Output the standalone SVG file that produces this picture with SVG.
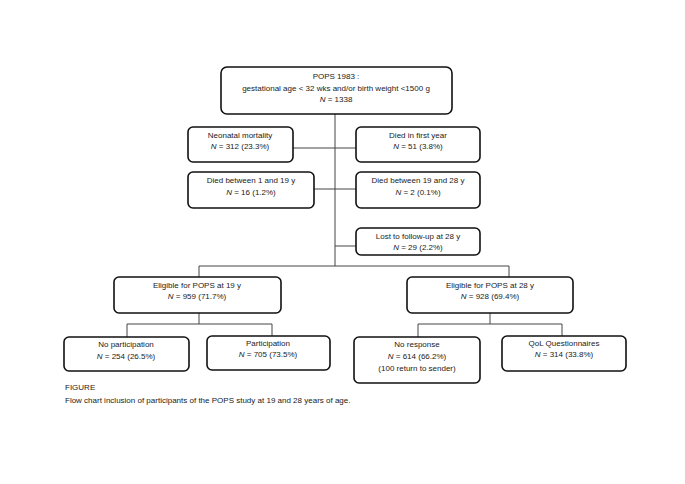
<svg xmlns="http://www.w3.org/2000/svg" width="685" height="484" viewBox="0 0 685 484">
<style>
.box{fill:#fff;stroke:#111;stroke-width:1.6}
.ln{fill:none;stroke:#444;stroke-width:1}
text{font-family:"Liberation Sans",Arial,sans-serif;font-size:8px;fill:#222;text-anchor:middle}
.cap{text-anchor:start;font-size:8px}
.i{font-style:italic}
</style>
<rect width="685" height="484" fill="#fff"/>
<g id="connectors">
<path class="ln" d="M335,114 V266"/>
<path class="ln" d="M293,148 H356"/>
<path class="ln" d="M314,189 H356"/>
<path class="ln" d="M335,246 H356"/>
<path class="ln" d="M199,277 V266 H509 V277"/>
<path class="ln" d="M199,313 V324 M127,337 V324 H272 V336"/>
<path class="ln" d="M490,313 V324 M418,337 V324 H562 V336"/>
</g>
<g id="pops">
<rect class="box" x="221" y="67" width="231" height="47" rx="6"/>
<text x="336" y="79">POPS 1983 :</text>
<text x="336" y="91">gestational age &lt; 32 wks and/or  birth weight &lt;1500 g</text>
<text x="336" y="102"><tspan class="i">N</tspan> = 1338</text>
</g>
<g id="neonatal">
<rect class="box" x="188" y="127" width="105" height="35" rx="5"/>
<text x="240" y="138">Neonatal mortality</text>
<text x="240" y="149"><tspan class="i">N</tspan> = 312 (23.3%)</text>
</g>
<g id="firstyear">
<rect class="box" x="356" y="127" width="124" height="35" rx="5"/>
<text x="418" y="138">Died in first year</text>
<text x="418" y="149"><tspan class="i">N</tspan> = 51 (3.8%)</text>
</g>
<g id="died1to19">
<rect class="box" x="188" y="172" width="126" height="36" rx="5"/>
<text x="251" y="183">Died between 1 and 19 y</text>
<text x="251" y="195"><tspan class="i">N</tspan> = 16 (1.2%)</text>
</g>
<g id="died19to28">
<rect class="box" x="356" y="172" width="124" height="36" rx="5"/>
<text x="418" y="183">Died between 19 and 28 y</text>
<text x="418" y="195"><tspan class="i">N</tspan> = 2 (0.1%)</text>
</g>
<g id="lost">
<rect class="box" x="356" y="228" width="124" height="27" rx="5"/>
<text x="418" y="239">Lost to follow-up at 28 y</text>
<text x="418" y="250"><tspan class="i">N</tspan> = 29 (2.2%)</text>
</g>
<g id="eligible19">
<rect class="box" x="114" y="277" width="167" height="36" rx="5"/>
<text x="197" y="288">Eligible for POPS at 19 y</text>
<text x="197" y="299"><tspan class="i">N</tspan> = 959 (71.7%)</text>
</g>
<g id="eligible28">
<rect class="box" x="407" y="277" width="166" height="36" rx="5"/>
<text x="490" y="288">Eligible for POPS at 28 y</text>
<text x="490" y="299"><tspan class="i">N</tspan> = 928 (69.4%)</text>
</g>
<g id="noparticipation">
<rect class="box" x="64" y="337" width="125" height="34" rx="5"/>
<text x="126" y="347">No participation</text>
<text x="126" y="359"><tspan class="i">N</tspan> = 254 (26.5%)</text>
</g>
<g id="participation">
<rect class="box" x="207" y="336" width="123" height="34" rx="5"/>
<text x="268" y="346">Participation</text>
<text x="268" y="357"><tspan class="i">N</tspan> = 705 (73.5%)</text>
</g>
<g id="noresponse">
<rect class="box" x="354" y="337" width="126" height="46" rx="5"/>
<text x="417" y="347">No response</text>
<text x="417" y="359"><tspan class="i">N</tspan> = 614 (66.2%)</text>
<text x="417" y="371">(100 return to sender)</text>
</g>
<g id="qol">
<rect class="box" x="502" y="336" width="124" height="35" rx="5"/>
<text x="564" y="346">QoL Questionnaires</text>
<text x="564" y="357"><tspan class="i">N</tspan> = 314 (33.8%)</text>
</g>
<text class="cap" x="65" y="390">FIGURE</text>
<text class="cap" x="65" y="403">Flow chart inclusion of participants of the POPS study at 19 and 28 years of age.</text>
</svg>
